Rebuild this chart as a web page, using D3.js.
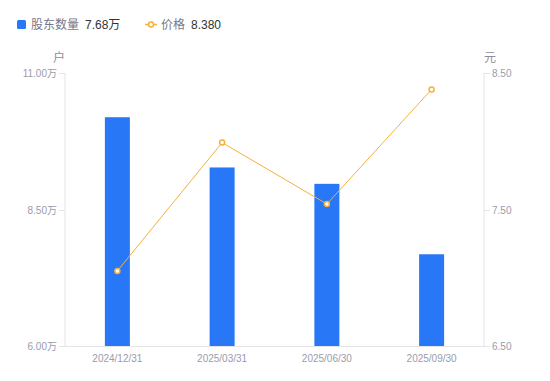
<!DOCTYPE html>
<html>
<head>
<meta charset="utf-8">
<script src="https://cdn.jsdelivr.net/npm/d3@7"></script>
<style>
    body { margin: 0; background: #fff; }
    svg { font-family: "Liberation Sans", Arial, "Noto Sans CJK SC", sans-serif; }
</style>
</head>
<body>
<div id="chart"></div>
<script>
// Chart data
const dates = ["2024/12/31", "2025/03/31", "2025/06/30", "2025/09/30"];
const holders = [10.19, 9.27, 8.97, 7.68];   // 万户
const prices = [7.05, 7.99, 7.54, 8.38];     // 元
const leftTicks = [6.0, 8.5, 11.0];
const rightTicks = [6.5, 7.5, 8.5];

const width = 550;
const height = 381;
const margin = { top: 73, right: 66, bottom: 35, left: 65 };

const svg = d3.select("#chart")
    .append("svg")
    .attr("width", width)
    .attr("height", height);

const x = d3.scaleBand()
    .domain(dates)
    .range([margin.left, width - margin.right]);

const yLeft = d3.scaleLinear()
    .domain([6, 11])
    .range([height - margin.bottom, margin.top]);

const yRight = d3.scaleLinear()
    .domain([6.5, 8.5])
    .range([height - margin.bottom, margin.top]);

const axisColor = "#e3e4e8";
const labelColor = "#9a9cab";

// Bars
const barW = 25;
svg.append("g")
    .selectAll("rect")
    .data(holders)
    .enter()
    .append("rect")
    .attr("x", (d, i) => x(dates[i]) + x.bandwidth() / 2 - barW / 2)
    .attr("y", d => yLeft(d))
    .attr("width", barW)
    .attr("height", d => yLeft(6) - yLeft(d))
    .attr("fill", "#2777f6");

// Axes lines
const axisG = svg.append("g");
axisG.append("line")
    .attr("x1", margin.left).attr("x2", margin.left)
    .attr("y1", margin.top).attr("y2", height - margin.bottom)
    .attr("stroke", axisColor);
axisG.append("line")
    .attr("x1", width - margin.right).attr("x2", width - margin.right)
    .attr("y1", margin.top).attr("y2", height - margin.bottom)
    .attr("stroke", axisColor);
axisG.append("line")
    .attr("x1", margin.left - 6).attr("x2", width - margin.right + 6)
    .attr("y1", height - margin.bottom + 0.5).attr("y2", height - margin.bottom + 0.5)
    .attr("stroke", axisColor);

// Left ticks
leftTicks.forEach(t => {
    const yy = Math.round(yLeft(t)) + 0.5;
    axisG.append("line")
        .attr("x1", margin.left - 6).attr("x2", margin.left)
        .attr("y1", yy).attr("y2", yy)
        .attr("stroke", axisColor);
    axisG.append("text")
        .attr("x", margin.left - 8)
        .attr("y", yy)
        .attr("dy", "0.35em")
        .attr("text-anchor", "end")
        .attr("font-size", 10)
        .attr("fill", labelColor)
        .text(t.toFixed(2) + "万");
});

// Right ticks
rightTicks.forEach(t => {
    const yy = Math.round(yRight(t)) + 0.5;
    axisG.append("line")
        .attr("x1", width - margin.right).attr("x2", width - margin.right + 6)
        .attr("y1", yy).attr("y2", yy)
        .attr("stroke", axisColor);
    axisG.append("text")
        .attr("x", width - margin.right + 8)
        .attr("y", yy)
        .attr("dy", "0.35em")
        .attr("font-size", 10)
        .attr("fill", labelColor)
        .text(t.toFixed(2));
});

// X labels
dates.forEach(d => {
    axisG.append("text")
        .attr("x", x(d) + x.bandwidth() / 2)
        .attr("y", height - margin.bottom + 16)
        .attr("text-anchor", "middle")
        .attr("font-size", 10)
        .attr("fill", labelColor)
        .text(d);
});

// Units
svg.append("text").attr("x", 59).attr("y", 62)
    .attr("text-anchor", "middle").attr("font-size", 12)
    .attr("fill", "#8c8e9c").text("户");
svg.append("text").attr("x", 490).attr("y", 62)
    .attr("text-anchor", "middle").attr("font-size", 12)
    .attr("fill", "#8c8e9c").text("元");

// Price line
const lineColor = "#f7b03c";
const line = d3.line()
    .x((d, i) => x(dates[i]) + x.bandwidth() / 2)
    .y(d => yRight(d));

svg.append("path")
    .datum(prices)
    .attr("d", line)
    .attr("fill", "none")
    .attr("stroke", lineColor)
    .attr("stroke-width", 1);

svg.append("g")
    .selectAll("circle")
    .data(prices)
    .enter()
    .append("circle")
    .attr("cx", (d, i) => x(dates[i]) + x.bandwidth() / 2)
    .attr("cy", d => yRight(d))
    .attr("r", 2.5)
    .attr("fill", "#fff")
    .attr("stroke", lineColor)
    .attr("stroke-width", 1.5);

// Legend
const legend = svg.append("g");
legend.append("rect")
    .attr("x", 17).attr("y", 20).attr("width", 9).attr("height", 9)
    .attr("rx", 1.5)
    .attr("fill", "#2777f6");
legend.append("text")
    .attr("x", 31).attr("y", 29)
    .attr("font-size", 12).attr("fill", "#75778a")
    .text("股东数量");
legend.append("text")
    .attr("x", 85).attr("y", 29)
    .attr("font-size", 12).attr("fill", "#333")
    .text(holders[holders.length - 1].toFixed(2) + "万");

legend.append("line")
    .attr("x1", 145).attr("x2", 157).attr("y1", 24.5).attr("y2", 24.5)
    .attr("stroke", lineColor).attr("stroke-width", 1.5);
legend.append("circle")
    .attr("cx", 151).attr("cy", 24.5).attr("r", 2.5)
    .attr("fill", "#fff").attr("stroke", lineColor).attr("stroke-width", 1.5);
legend.append("text")
    .attr("x", 161).attr("y", 29)
    .attr("font-size", 12).attr("fill", "#75778a")
    .text("价格");
legend.append("text")
    .attr("x", 191).attr("y", 29)
    .attr("font-size", 12).attr("fill", "#333")
    .text(prices[prices.length - 1].toFixed(3));
</script>
</body>
</html>
